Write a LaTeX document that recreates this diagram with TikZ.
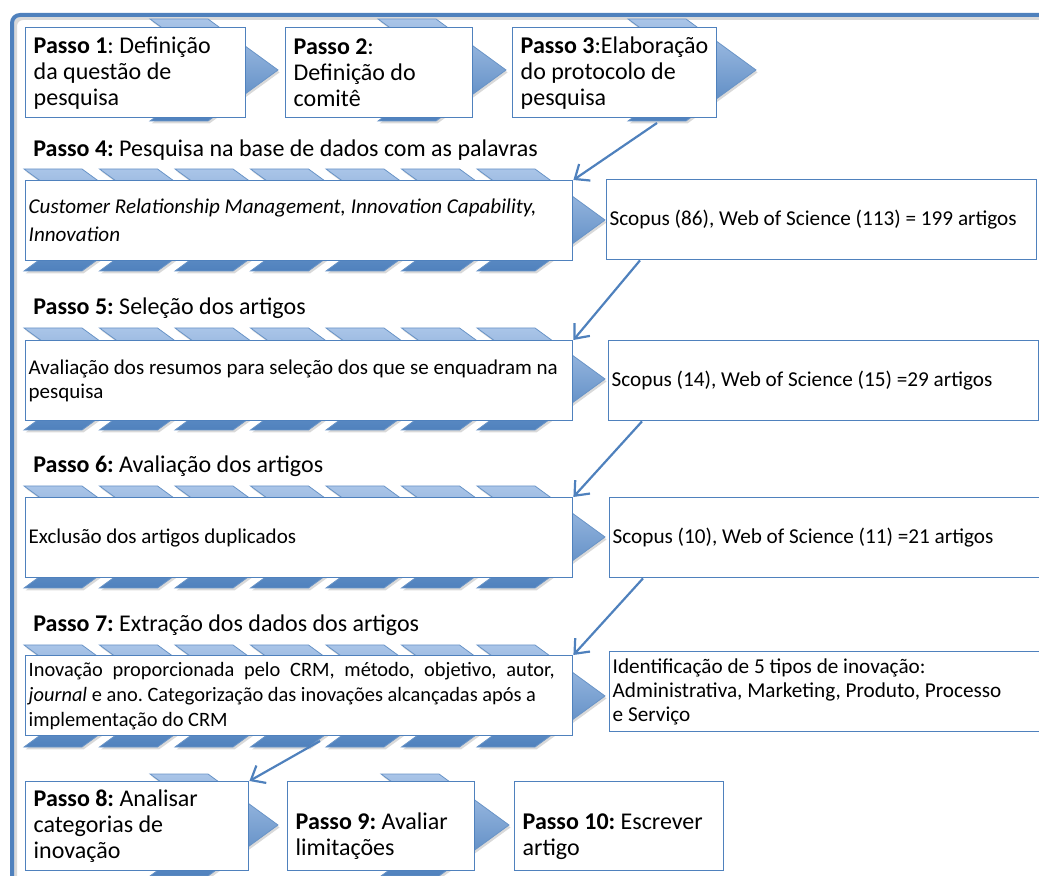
\documentclass[tikz,border=0pt]{standalone}
\usepackage{fontspec}
\setmainfont{Carlito}
\usetikzlibrary{arrows.meta,shadows}
\definecolor{mblue}{HTML}{4F81BD}
\definecolor{lblue}{HTML}{AAC5E8}
\frenchspacing

\begin{document}
\begin{tikzpicture}[x=0.5pt, y=-0.5pt,
  box/.style={draw=mblue, fill=white, line width=0.7pt, anchor=north west, align=flush left, inner xsep=4pt, inner ysep=1pt, font=\fontsize{12}{13}\selectfont},
  wide/.style={box, inner xsep=1.5pt, text width=270.5pt, minimum height=40pt},
  result/.style={box, inner xsep=1.5pt, text width=212pt, minimum height=40pt, font=\fontsize{10.6}{12}\selectfont},
  steptitle/.style={anchor=west, inner sep=0pt, font=\fontsize{12}{13}\selectfont},
  chev/.style={draw=mblue!85, line width=0.4pt, top color=lblue, bottom color=mblue, drop shadow={opacity=0.3, shadow xshift=0.8pt, shadow yshift=-1.2pt}},
  arrow/.style={draw=mblue, line width=1.1pt, -{Straight Barb[length=6pt, width=10pt]}},
]
\useasboundingbox (0,0) rectangle (1039,876);

% === FRAME ===
\draw[black!15, line width=2pt, rounded corners=4pt] (1039,18) -- (15,18) -- (15,876);
\draw[mblue, line width=2pt, rounded corners=4pt] (1039,15) -- (12,15) -- (12,876);

% === CHEVRONS ===
\foreach \x in {150,378,628}
  \draw[chev] (\x,19) -- (\x+58,19) -- (\x+128,70) -- (\x+58,121) -- (\x,121) -- (\x+70,70) -- cycle;
\foreach \yc in {220,379,537,696} {
  \foreach \x in {24,99.5,175,250.5,326,401.5,477}
    \draw[chev] (\x,\yc-51) -- (\x+58,\yc-51) -- (\x+128,\yc) -- (\x+58,\yc+51) -- (\x,\yc+51) -- (\x+70,\yc) -- cycle;
}
\foreach \x in {150,381}
  \draw[chev] (\x,774) -- (\x+58,774) -- (\x+128,825) -- (\x+58,876) -- (\x,876) -- (\x+70,825) -- cycle;

% === STEPS 1-3 ===
\node[box, text width=102pt, minimum height=45pt] (b1) at (25,27) {\textbf{Passo 1}: Definição\\da questão de\\pesquisa};
\node[box, text width=85.5pt, minimum height=45pt] (b2) at (285,27) {\textbf{Passo 2}:\\Definição do\\comitê};
\node[box, text width=94pt, minimum height=45pt] (b3) at (512,27) {\textbf{Passo 3}:Elaboração\\do protocolo de\\pesquisa};

% === STEPS 4-7 ===
\node[steptitle] (t4) at (33,150) {\textbf{Passo 4:} Pesquisa na base de dados com as palavras};
\node[wide, font=\fontsize{10.55}{14}\selectfont\itshape] (b4) at (25,180) {Customer Relationship Management, Innovation Capability,\\Innovation};
\node[result] (rb4) at (606,179) {Scopus (86), Web of Science (113) = 199 artigos};

\node[steptitle] (t5) at (33,308) {\textbf{Passo 5:} Seleção dos artigos};
\node[wide, font=\fontsize{10.5}{12}\selectfont] (b5) at (25,340) {Avaliação dos resumos para seleção dos que se enquadram na\\pesquisa};
\node[result] (rb5) at (608,340) {Scopus (14), Web of Science (15) =29 artigos};

\node[steptitle] (t6) at (33,466) {\textbf{Passo 6:} Avaliação dos artigos};
\node[wide, font=\fontsize{10.5}{12}\selectfont] (b6) at (25,497) {Exclusão dos artigos duplicados};
\node[result] (rb6) at (609,497) {Scopus (10), Web of Science (11) =21 artigos};

\node[steptitle] (t7) at (33,625) {\textbf{Passo 7:} Extração dos dados dos artigos};
\node[wide, font=\fontsize{10.2}{12.5}\selectfont] (b7) at (25,655) {\makebox[263pt][s]{Inovação proporcionada pelo CRM, método, objetivo, autor,}\\\textit{journal} e ano. Categorização das inovações alcançadas após a\\implementação do CRM};
\node[result] (rb7) at (609,651) {Identificação de 5 tipos de inovação:\\Administrativa, Marketing, Produto, Processo\\e Serviço};

% === STEPS 8-10 ===
\node[box, text width=103.5pt, minimum height=44.5pt] (b8) at (25,781) {\textbf{Passo 8:} Analisar\\categorias de\\inovação};
\node[box, text width=85.5pt, minimum height=44.5pt] (b9) at (287,781) {\rule{0pt}{18pt}\textbf{Passo 9:} Avaliar\\limitações};
\node[box, text width=96.5pt, minimum height=44.5pt] (b10) at (514,781) {\rule{0pt}{18pt}\textbf{Passo 10:} Escrever\\artigo};

% === CONNECTORS ===
\coordinate (s3) at (657,123);
\coordinate (s7) at (320,741);
\draw[arrow] (s3) -- (b4.north east);
\draw[arrow] ([xshift=17pt]rb4.south west) -- (b5.north east);
\draw[arrow] ([xshift=17pt]rb5.south west) -- (b6.north east);
\draw[arrow] ([xshift=17pt]rb6.south west) -- (b7.north east);
\draw[arrow] (s7) -- (b8.north east);
\end{tikzpicture}
\end{document}
